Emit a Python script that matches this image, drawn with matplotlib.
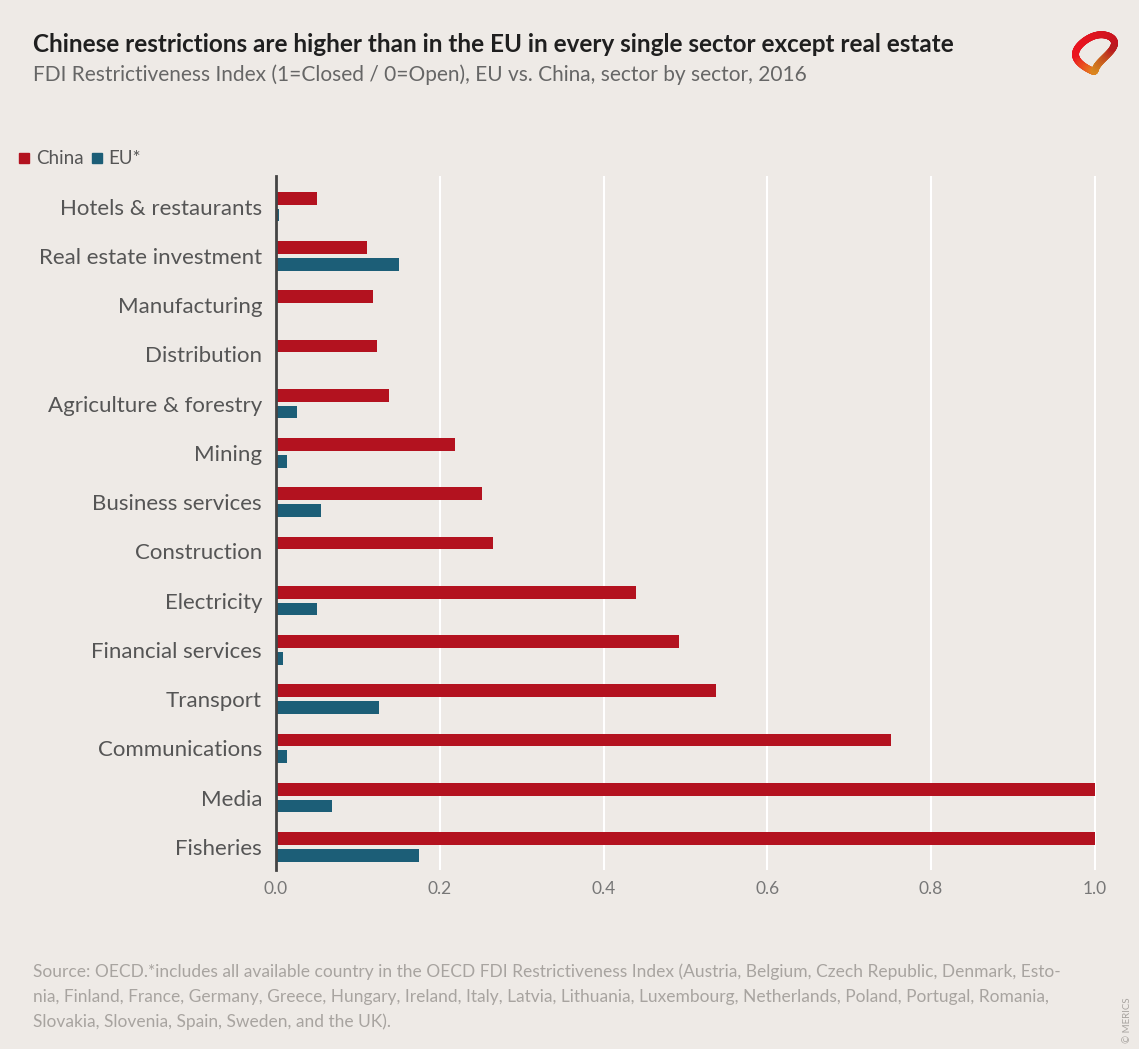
import matplotlib
matplotlib.use("Agg")
import matplotlib.pyplot as plt
import numpy as np

categories = ["Hotels & restaurants", "Real estate investment", "Manufacturing", "Distribution",
              "Agriculture & forestry", "Mining", "Business services", "Construction",
              "Electricity", "Financial services", "Transport", "Communications", "Media", "Fisheries"]
china = [0.050, 0.111, 0.118, 0.123, 0.138, 0.219, 0.251, 0.265, 0.440, 0.492, 0.538, 0.751, 1.0, 1.0]
eu = [0.004, 0.150, 0.001, 0.001, 0.026, 0.014, 0.055, 0.001, 0.050, 0.008, 0.126, 0.014, 0.069, 0.175]
xticks = [0.0, 0.2, 0.4, 0.6, 0.8, 1.0]
xticklabels = ["0.0", "0.2", "0.4", "0.6", "0.8", "1.0"]

BG = "#EEEAE6"
RED = "#B3121F"
TEAL = "#1C5E77"

plt.rcParams['font.family'] = ['Lato', 'DejaVu Sans']

W, H = 1139, 1049
fig = plt.figure(figsize=(W / 100, H / 100), dpi=100, facecolor=BG)
ax = fig.add_axes([276 / W, 1 - 870 / H, 820 / W, 694 / H], facecolor=BG)

y = np.arange(len(categories))
bh = 0.26
ax.barh(y - 0.17, china, height=bh, color=RED, zorder=3)
ax.barh(y + 0.17, eu, height=bh, color=TEAL, zorder=3)

ax.set_ylim(len(categories) - 1 + 0.47, -0.62)
ax.set_xlim(0, 1.0015)
ax.set_yticks(y)
ax.set_yticklabels(categories, fontsize=16, color="#555555")
ax.set_xticks(xticks)
ax.set_xticklabels(xticklabels, fontsize=12.5, color="#777777")
ax.tick_params(axis="both", length=0)
ax.tick_params(axis="y", pad=10)
ax.tick_params(axis="x", pad=8)
ax.grid(axis="x", color="white", linewidth=1.5, zorder=1)
for s in ["top", "right", "bottom"]:
    ax.spines[s].set_visible(False)
ax.spines["left"].set_color("#444444")
ax.spines["left"].set_linewidth(2)
ax.spines["left"].set_zorder(4)

# Title and subtitle
fig.text(33 / W, 1 - 44 / H, "Chinese restrictions are higher than in the EU in every single sector except real estate",
         fontsize=17.5, fontweight="bold", color="#1f1f1f", va="center", ha="left")
fig.text(33 / W, 1 - 75 / H, "FDI Restrictiveness Index (1=Closed / 0=Open), EU vs. China, sector by sector, 2016",
         fontsize=15, color="#666666", va="center", ha="left")

# Legend
fig.patches.append(plt.Rectangle((19 / W, 1 - 163 / H), 10 / W, 10 / H, transform=fig.transFigure,
                                 color=RED))
fig.text(36 / W, 1 - 158 / H, "China", fontsize=13.5, color="#555555", va="center", ha="left")
fig.patches.append(plt.Rectangle((92 / W, 1 - 163 / H), 10 / W, 10 / H, transform=fig.transFigure,
                                 color=TEAL))
fig.text(108 / W, 1 - 158 / H, "EU*", fontsize=13.5, color="#555555", va="center", ha="left")

# Footnote
foot = ["Source: OECD.*includes all available country in the OECD FDI Restrictiveness Index (Austria, Belgium, Czech Republic, Denmark, Esto-",
        "nia, Finland, France, Germany, Greece, Hungary, Ireland, Italy, Latvia, Lithuania, Luxembourg, Netherlands, Poland, Portugal, Romania,",
        "Slovakia, Slovenia, Spain, Sweden, and the UK)."]
for i, line in enumerate(foot):
    fig.text(33 / W, 1 - (972 + i * 25) / H, line, fontsize=12.5, color="#A8A4A0", va="center", ha="left")
fig.text(1127 / W, 1 - 1020 / H, "© MERICS", fontsize=7, color="#A8A4A0", rotation=90, va="center", ha="center")

# Logo (stylised)
lax = fig.add_axes([1070 / W, 1 - 80 / H, 50 / W, 54 / H])
lax.set_axis_off()
t = np.linspace(0, 2 * np.pi, 200)
xs = np.cos(t) * (1 + 0.25 * np.cos(2 * t)) + 0.3 * np.sin(2 * t)
ys = 0.9 * np.sin(t) + 0.3 * np.cos(t)
n = len(t)
for k in range(n - 1):
    f = k / n
    col = (0.72 + 0.2 * np.sin(np.pi * f), 0.08 + 0.45 * max(0, np.sin(2 * np.pi * f - np.pi)) , 0.12)
    lax.plot(xs[k:k + 2], ys[k:k + 2], color=col, lw=5, solid_capstyle="round")
lax.set_xlim(-1.7, 1.7)
lax.set_ylim(-1.4, 1.4)

fig.savefig("out.png", dpi=100, facecolor=BG)
